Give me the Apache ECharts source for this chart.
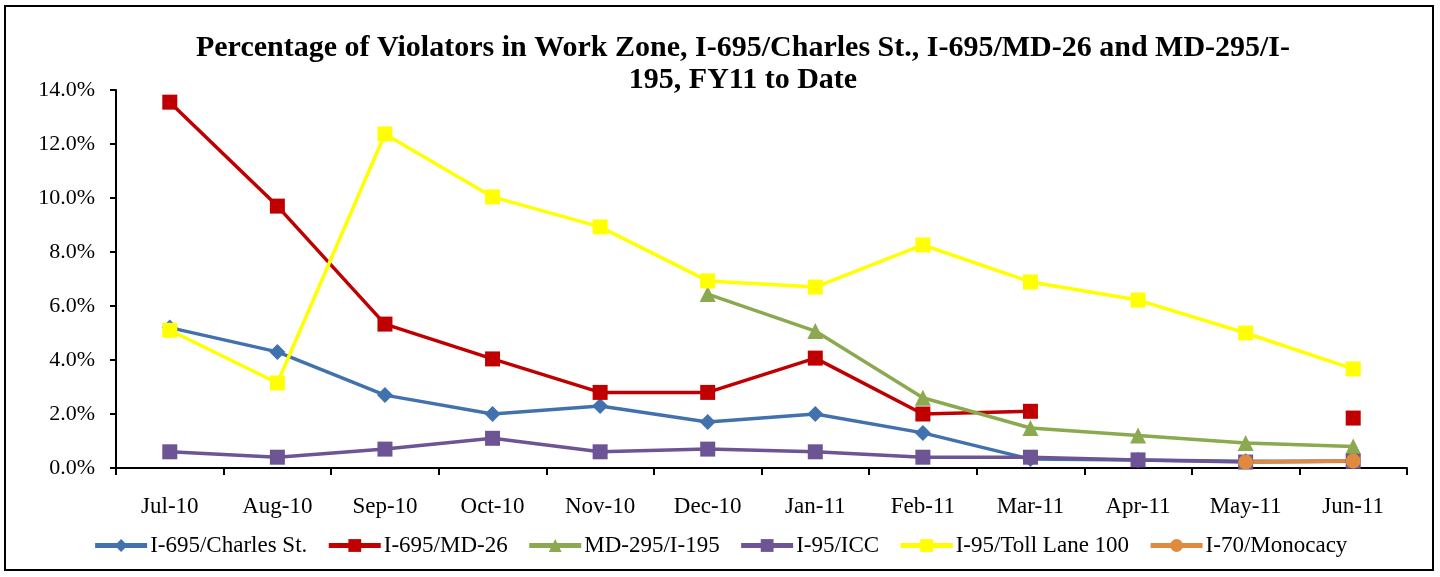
<!DOCTYPE html>
<html>
<head>
<meta charset="utf-8">
<script src="https://cdn.jsdelivr.net/npm/echarts@6/dist/echarts.min.js"></script>
<style>
html,body{margin:0;padding:0;background:#fff;}
#c{width:1440px;height:577px;}
</style>
</head>
<body>
<div id="c"></div>
<script>
const categories = ['Jul-10','Aug-10','Sep-10','Oct-10','Nov-10','Dec-10','Jan-11','Feb-11','Mar-11','Apr-11','May-11','Jun-11'];
const charlesSt = [5.2, 4.3, 2.7, 2.0, 2.3, 1.7, 2.0, 1.3, 0.33, 0.3, 0.25, 0.25];
const md26 = [13.55, 9.7, 5.33, 4.04, 2.8, 2.8, 4.07, 2.0, 2.1, null, null, 1.85];
const md295 = [null, null, null, null, null, 6.44, 5.07, 2.6, 1.48, 1.2, 0.93, 0.8];
const icc = [0.6, 0.4, 0.7, 1.1, 0.6, 0.7, 0.6, 0.4, 0.4, 0.3, 0.22, 0.25];
const tollLane = [5.1, 3.15, 12.37, 10.04, 8.93, 6.93, 6.7, 8.26, 6.89, 6.22, 5.0, 3.67];
const monocacy = [null, null, null, null, null, null, null, null, null, null, 0.22, 0.26];
const seriesNames = ['I-695/Charles St.','I-695/MD-26','MD-295/I-195','I-95/ICC','I-95/Toll Lane 100','I-70/Monocacy'];
const yTicks = [0, 2, 4, 6, 8, 10, 12, 14];

const font = 'Liberation Serif, Times New Roman, serif';
const chart = echarts.init(document.getElementById('c'));

function mk(name, data, color, symbol, size) {
  return {
    name, type: 'line', data, symbol, symbolSize: size,
    connectNulls: false,
    lineStyle: {color, width: 3.5},
    itemStyle: {color},
    emphasis: {disabled: true},
    animation: false
  };
}

chart.setOption({
  animation: false,
  backgroundColor: '#fff',
  title: {
    text: 'Percentage of Violators in Work Zone, I-695/Charles St., I-695/MD-26 and MD-295/I-\n195, FY11 to Date',
    left: 738, top: 27, textAlign: 'center',
    textStyle: {fontFamily: font, fontWeight: 'bold', fontSize: 30, lineHeight: 32, color: '#000'}
  },
  graphic: [{
    type: 'rect', shape: {x: 5, y: 6, width: 1428, height: 564},
    style: {fill: 'none', stroke: '#000', lineWidth: 2}, silent: true, z: -1
  }],
  legend: {
    data: seriesNames,
    bottom: 15, left: 'center',
    itemWidth: 52, itemHeight: 16, itemGap: 19,
    lineStyle: {width: 5},
    textStyle: {fontFamily: font, fontSize: 23, color: '#000', padding: [0, 0, 0, -2]}
  },
  grid: {left: 116, right: 33, top: 90, bottom: 109, containLabel: false},
  xAxis: {
    type: 'category', data: categories, boundaryGap: true,
    axisLine: {lineStyle: {color: '#000', width: 2}},
    axisTick: {show: true, length: 7, lineStyle: {color: '#000', width: 2}, alignWithLabel: false},
    axisLabel: {fontFamily: font, fontSize: 23, color: '#000', margin: 27}
  },
  yAxis: {
    type: 'value', min: 0, max: 14, interval: 2,
    axisLine: {show: true, lineStyle: {color: '#000', width: 2}},
    axisTick: {show: true, length: 6, lineStyle: {color: '#000', width: 2}},
    splitLine: {show: false},
    axisLabel: {fontFamily: font, fontSize: 22, color: '#000', margin: 21,
      formatter: v => yTicks.includes(v) ? v.toFixed(1) + '%' : ''}
  },
  series: [
    mk(seriesNames[0], charlesSt, '#4272AE', 'diamond', 16),
    mk(seriesNames[1], md26, '#C00000', 'rect', 15),
    mk(seriesNames[2], md295, '#8BA94E', 'triangle', 16),
    mk(seriesNames[3], icc, '#6D5494', 'rect', 15),
    mk(seriesNames[4], tollLane, '#FFFF00', 'rect', 15),
    mk(seriesNames[5], monocacy, '#E08A3E', 'circle', 15)
  ]
});
</script>
</body>
</html>
